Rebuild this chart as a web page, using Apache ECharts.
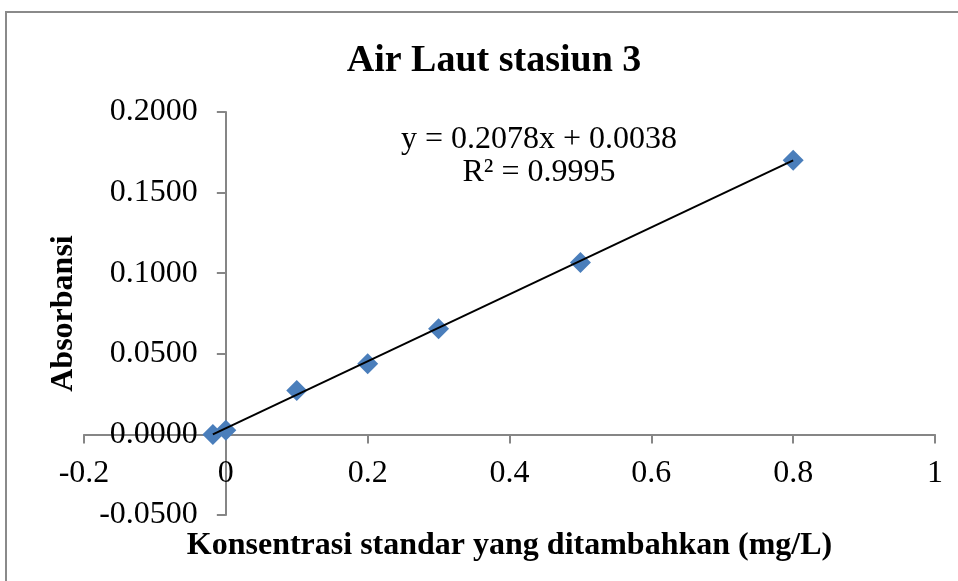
<!DOCTYPE html>
<html>
<head>
<meta charset="utf-8">
<script src="https://cdn.jsdelivr.net/npm/echarts@6/dist/echarts.min.js"></script>
<style>html,body{margin:0;padding:0;background:#fff}#c{width:958px;height:581px}</style>
</head>
<body>
<div id="c"></div>
<script>
const concentration = [-0.0183, 0, 0.1, 0.2, 0.3, 0.5, 0.8];
const absorbance = [0, 0.0025, 0.0273, 0.0439, 0.0656, 0.1066, 0.1700];
const slope = 0.2078;
const intercept = 0.0038;
const rSquared = 0.9995;
const xTicks = [-0.2, 0, 0.2, 0.4, 0.6, 0.8, 1];
const yTicks = [-0.05, 0, 0.05, 0.1, 0.15, 0.2];

const font = "'Liberation Serif', 'Times New Roman', serif";
const axisGray = '#868686';
const points = concentration.map((x, i) => [x, absorbance[i]]);
const xMinData = Math.min(...concentration);
const xMaxData = Math.max(...concentration);
const trend = [[xMinData, slope * xMinData + intercept], [xMaxData, slope * xMaxData + intercept]];

const chart = echarts.init(document.getElementById('c'), null, {renderer: 'canvas'});
chart.setOption({
  animation: false,
  backgroundColor: '#fff',
  title: {
    text: 'Air Laut stasiun 3',
    left: 489, top: 37, textAlign: 'center',
    textStyle: {fontFamily: font, fontSize: 38, fontWeight: 'bold', color: '#000'}
  },
  grid: {left: 84, right: 23, top: 112, bottom: 66, containLabel: false, outerBoundsMode: 'none'},
  xAxis: {
    type: 'value', position: 'bottom',
    min: xTicks[0], max: xTicks[xTicks.length - 1], interval: 0.2,
    name: 'Konsentrasi standar yang ditambahkan (mg/L)',
    nameLocation: 'middle', nameGap: 95,
    nameTextStyle: {fontFamily: font, fontSize: 32, fontWeight: 'bold', color: '#000'},
    axisLine: {onZero: false, lineStyle: {color: axisGray, width: 2}},
    axisTick: {show: true, length: 9, lineStyle: {color: axisGray, width: 2}},
    axisLabel: {margin: 23, fontFamily: font, fontSize: 32, color: '#000',
      formatter: v => String(Math.round(v * 10) / 10)},
    splitLine: {show: false}
  },
  yAxis: {
    type: 'value', position: 'left',
    min: yTicks[0], max: yTicks[yTicks.length - 1], interval: 0.05,
    name: 'Absorbansi',
    nameLocation: 'middle', nameGap: 146, nameRotate: 90,
    nameTextStyle: {fontFamily: font, fontSize: 32, fontWeight: 'bold', color: '#000'},
    axisLine: {show: true, onZero: false, lineStyle: {color: axisGray, width: 2}},
    axisTick: {show: true, length: 9, lineStyle: {color: axisGray, width: 2}},
    axisLabel: {margin: 28, fontFamily: font, fontSize: 32, color: '#000',
      formatter: v => v.toFixed(4)},
    splitLine: {show: false}
  },
  graphic: [
    {type: 'rect', shape: {x: 6, y: 12, width: 1000, height: 700},
     style: {fill: 'none', stroke: '#8a8a8a', lineWidth: 2}, z: -10, silent: true},
    {type: 'text', x: 539, y: 123,
     style: {text: 'y = ' + slope.toFixed(4) + 'x + ' + intercept.toFixed(4) + '\nR² = ' + rSquared.toFixed(4),
       font: '32px ' + font, fill: '#000', align: 'center', verticalAlign: 'top', lineHeight: 33}}
  ],
  series: [
    {type: 'scatter', data: points, symbol: 'diamond', symbolSize: 21,
     itemStyle: {color: '#4A7EBB', opacity: 1}, z: 2},
    {type: 'line', data: trend, symbol: 'none', lineStyle: {color: '#000', width: 2}, z: 3, silent: true}
  ]
});

// Move each axis (line, ticks, labels, name) to cross the other at zero, like Excel.
const origin = chart.convertToPixel({gridIndex: 0}, [0, 0]);
const corner = chart.convertToPixel({gridIndex: 0}, [xTicks[0], yTicks[0]]);
chart.setOption({
  xAxis: {offset: origin[1] - corner[1]},
  yAxis: {offset: corner[0] - origin[0]}
});
</script>
</body>
</html>
